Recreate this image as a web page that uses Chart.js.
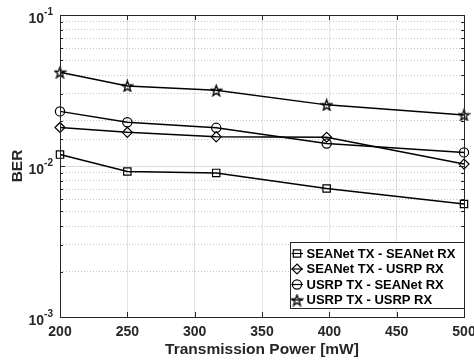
<!DOCTYPE html>
<html>
<head>
<meta charset="utf-8">
<script src="https://cdn.jsdelivr.net/npm/chart.js@4.4.1/dist/chart.umd.min.js"></script>
<style>
  html, body { margin: 0; padding: 0; background: #fff; }
</style>
</head>
<body>
<canvas id="ber-chart" width="474" height="360"></canvas>
<script>
// BER vs transmission power
const powerMw       = [200, 250, 316, 398, 500];
const seanetSeanet  = [0.0119, 0.0092, 0.0090, 0.0071, 0.0056];
const seanetUsrp    = [0.0180, 0.0167, 0.0156, 0.0155, 0.0103];
const usrpSeanet    = [0.0230, 0.0195, 0.0179, 0.0141, 0.0123];
const usrpUsrp      = [0.0418, 0.0339, 0.0317, 0.0254, 0.0218];
const seriesNames   = ['SEANet TX - SEANet RX', 'SEANet TX - USRP RX', 'USRP TX - SEANet RX', 'USRP TX - USRP RX'];
const xTickValues   = [200, 250, 300, 350, 400, 450, 500];
const yDecades      = [-3, -2, -1];

const FONT = "'Liberation Sans', Arial, Helvetica, sans-serif";
const INK  = '#262626';

function starImage(size) {
  const c = document.createElement('canvas');
  c.width = c.height = size;
  const g = c.getContext('2d');
  const cx = size / 2, cy = size / 2 + 0.6, R = size / 2 - 0.8, r = R * 0.4;
  g.beginPath();
  for (let k = 0; k < 10; k++) {
    const ang = -Math.PI / 2 + k * Math.PI / 5;
    const rr = k % 2 ? r : R;
    g.lineTo(cx + rr * Math.cos(ang), cy + rr * Math.sin(ang));
  }
  g.closePath();
  g.lineWidth = 1.3;
  g.strokeStyle = '#000';
  g.stroke();
  return c;
}
const STAR = starImage(13);

const styles = [
  { point: 'rect',    radius: 5.2 },
  { point: 'rectRot', radius: 5 },
  { point: 'circle',  radius: 4.6 },
  { point: STAR,      radius: 6 },
];
const seriesData = [seanetSeanet, seanetUsrp, usrpSeanet, usrpUsrp];

// legend glyphs: hollow, the legend line runs through them
function drawMarker(ctx, kind, x, y) {
  ctx.beginPath();
  if (kind === 'rect') {
    ctx.rect(x - 3.7, y - 3.7, 7.4, 7.4);
  } else if (kind === 'rectRot') {
    ctx.moveTo(x, y - 5); ctx.lineTo(x + 5, y); ctx.lineTo(x, y + 5); ctx.lineTo(x - 5, y); ctx.closePath();
  } else if (kind === 'circle') {
    ctx.arc(x, y, 4.6, 0, Math.PI * 2);
  } else {
    ctx.drawImage(STAR, x - STAR.width / 2, y - STAR.height / 2);
    return;
  }
  ctx.stroke();
}

const matlabFrame = {
  id: 'matlabFrame',
  afterDraw(chart) {
    const { ctx, chartArea: a, scales: { x, y } } = chart;
    ctx.save();
    ctx.strokeStyle = INK;
    ctx.lineWidth = 1;
    ctx.strokeRect(Math.round(a.left) + 0.5, Math.round(a.top) + 0.5,
                   Math.round(a.right - a.left), Math.round(a.bottom - a.top));

    // inward ticks
    ctx.beginPath();
    y.ticks.forEach(t => {
      const py = Math.round(y.getPixelForValue(t.value)) + 0.5;
      const len = isMajor(t.value) ? 5 : 3;
      ctx.moveTo(a.left, py); ctx.lineTo(a.left + len, py);
      ctx.moveTo(a.right, py); ctx.lineTo(a.right - len, py);
    });
    xTickValues.forEach(v => {
      const px = Math.round(x.getPixelForValue(v)) + 0.5;
      ctx.moveTo(px, a.bottom); ctx.lineTo(px, a.bottom - 5);
      ctx.moveTo(px, a.top); ctx.lineTo(px, a.top + 5);
    });
    ctx.stroke();

    // y tick labels 10^n
    ctx.fillStyle = INK;
    ctx.textBaseline = 'middle';
    yDecades.forEach(d => {
      const py = y.getPixelForValue(Math.pow(10, d));
      ctx.font = 'bold 10px ' + FONT;
      ctx.textAlign = 'right';
      const sup = '-' + Math.abs(d);
      const supW = ctx.measureText(sup).width;
      ctx.fillText(sup, 53, py - 2.5);
      ctx.font = 'bold 14px ' + FONT;
      ctx.fillText('10', 53 - supW, py + 4);
    });

    // y axis title
    ctx.save();
    ctx.translate(18, (a.top + a.bottom) / 2);
    ctx.rotate(-Math.PI / 2);
    ctx.textAlign = 'center';
    ctx.font = 'bold 15.5px ' + FONT;
    ctx.fillText('BER', 0, 0);
    ctx.restore();

    // legend box (lower right)
    const bx = 290, by = 242, bw = a.right - bx, bh = 66;
    ctx.fillStyle = '#fff';
    ctx.fillRect(bx, by, bw, bh);
    ctx.strokeRect(bx + 0.5, by + 0.5, bw, bh);
    ctx.font = 'bold 13px ' + FONT;
    ctx.textAlign = 'left';
    ctx.lineWidth = 1.2;
    ctx.strokeStyle = '#000';
    seriesNames.forEach((name, i) => {
      const cy = by + 11.5 + i * 15.5;
      ctx.beginPath();
      ctx.moveTo(bx + 1.5, cy); ctx.lineTo(bx + 13, cy);
      ctx.stroke();
      drawMarker(ctx, styles[i].point, bx + 7, cy);
      ctx.fillStyle = '#000';
      ctx.fillText(name, bx + 16.5, cy + 0.5);
    });
    ctx.restore();
  }
};

function isMajor(v) {
  return Math.abs(Math.log10(v) - Math.round(Math.log10(v))) < 1e-6;
}

new Chart(document.getElementById('ber-chart'), {
  type: 'line',
  data: {
    datasets: seriesData.map((vals, i) => ({
      label: seriesNames[i],
      data: powerMw.map((p, j) => ({ x: p, y: vals[j] })),
      borderColor: '#000',
      borderWidth: 1.5,
      pointStyle: styles[i].point,
      pointRadius: styles[i].radius,
      pointBorderColor: '#000',
      pointBackgroundColor: 'rgba(0,0,0,0)',
      pointBorderWidth: 1.2,
      tension: 0,
      clip: false,
    })),
  },
  options: {
    responsive: false,
    animation: false,
    events: [],
    layout: { padding: { top: 15, right: 10, left: 0, bottom: 0 } },
    plugins: { legend: { display: false }, tooltip: { enabled: false } },
    scales: {
      x: {
        type: 'linear',
        min: 200,
        max: 500,
        afterBuildTicks: s => { s.ticks = xTickValues.map(v => ({ value: v })); },
        afterFit: s => { s.height = 43; s.paddingLeft = 0; s.paddingRight = 0; },
        ticks: { color: INK, font: { family: FONT, size: 14, weight: 'bold' }, padding: 7, maxRotation: 0 },
        grid: { color: '#e2e2e2', lineWidth: 1, drawTicks: false },
        border: { display: false },
        title: {
          display: true,
          text: 'Transmission Power [mW]',
          color: INK,
          font: { family: FONT, size: 15.5, weight: 'bold' },
          padding: { top: 0, bottom: 1 },
        },
      },
      y: {
        type: 'logarithmic',
        min: 0.001,
        max: 0.1,
        afterFit: s => { s.width = 60; },
        ticks: { display: false },
        grid: {
          drawTicks: false,
          color: ctx => (ctx.tick && isMajor(ctx.tick.value)) ? '#dcdcdc' : '#c4c4c4',
          lineWidth: 1,
        },
        border: {
          display: false,
          dash: ctx => (ctx.tick && !isMajor(ctx.tick.value)) ? [1, 2] : [],
        },
      },
    },
  },
  plugins: [matlabFrame],
});
</script>
</body>
</html>
